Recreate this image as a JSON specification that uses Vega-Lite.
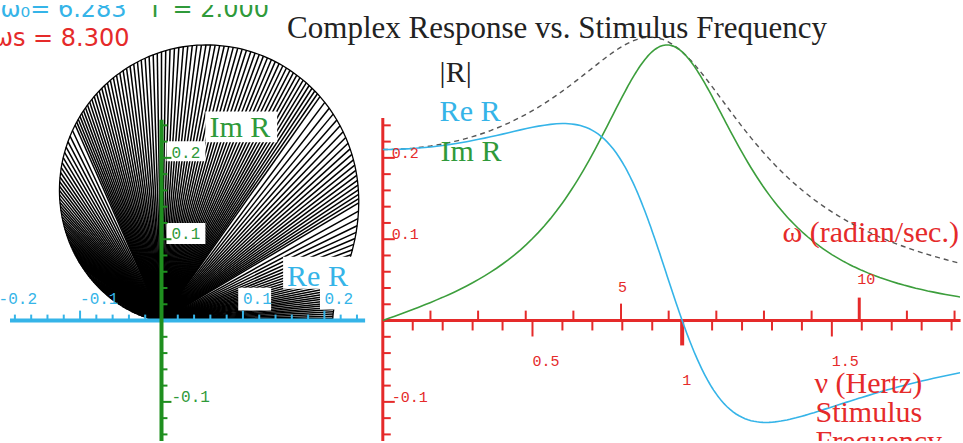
{
  "$schema": "https://vega.github.io/schema/vega-lite/v6.json",
  "width": 963,
  "height": 443,
  "autosize": {"type": "fit", "contains": "padding"},
  "padding": 0,
  "background": "white",
  "config": {"view": {"stroke": null}, "axis": {"disable": true}},
  "datasets": {
    "resp": [
      {"nu":0,"re":0.2103,"im":0,"mag":0.2103},
      {"nu":0.02,"re":0.2103,"im":0.0027,"mag":0.2103},
      {"nu":0.04,"re":0.2105,"im":0.0054,"mag":0.2105},
      {"nu":0.06,"re":0.2107,"im":0.0081,"mag":0.2109},
      {"nu":0.08,"re":0.2111,"im":0.0108,"mag":0.2113},
      {"nu":0.1,"re":0.2115,"im":0.0136,"mag":0.2119},
      {"nu":0.12,"re":0.2121,"im":0.0164,"mag":0.2127},
      {"nu":0.14,"re":0.2127,"im":0.0193,"mag":0.2136},
      {"nu":0.16,"re":0.2134,"im":0.0223,"mag":0.2146},
      {"nu":0.18,"re":0.2143,"im":0.0254,"mag":0.2158},
      {"nu":0.2,"re":0.2152,"im":0.0285,"mag":0.2171},
      {"nu":0.22,"re":0.2163,"im":0.0318,"mag":0.2186},
      {"nu":0.24,"re":0.2174,"im":0.0352,"mag":0.2202},
      {"nu":0.26,"re":0.2186,"im":0.0388,"mag":0.2220},
      {"nu":0.28,"re":0.2199,"im":0.0425,"mag":0.2240},
      {"nu":0.3,"re":0.2213,"im":0.0464,"mag":0.2261},
      {"nu":0.32,"re":0.2228,"im":0.0506,"mag":0.2284},
      {"nu":0.34,"re":0.2243,"im":0.0549,"mag":0.2309},
      {"nu":0.36,"re":0.2259,"im":0.0595,"mag":0.2336},
      {"nu":0.38,"re":0.2275,"im":0.0643,"mag":0.2365},
      {"nu":0.4,"re":0.2292,"im":0.0695,"mag":0.2395},
      {"nu":0.42,"re":0.2309,"im":0.0750,"mag":0.2428},
      {"nu":0.44,"re":0.2327,"im":0.0808,"mag":0.2463},
      {"nu":0.46,"re":0.2344,"im":0.0870,"mag":0.2500},
      {"nu":0.48,"re":0.2360,"im":0.0937,"mag":0.2539},
      {"nu":0.5,"re":0.2376,"im":0.1008,"mag":0.2581},
      {"nu":0.52,"re":0.2390,"im":0.1084,"mag":0.2624},
      {"nu":0.54,"re":0.2402,"im":0.1166,"mag":0.2670},
      {"nu":0.56,"re":0.2412,"im":0.1253,"mag":0.2718},
      {"nu":0.58,"re":0.2419,"im":0.1346,"mag":0.2769},
      {"nu":0.6,"re":0.2422,"im":0.1446,"mag":0.2821},
      {"nu":0.61,"re":0.2422,"im":0.1498,"mag":0.2848},
      {"nu":0.62,"re":0.2420,"im":0.1552,"mag":0.2875},
      {"nu":0.63,"re":0.2417,"im":0.1608,"mag":0.2903},
      {"nu":0.64,"re":0.2412,"im":0.1665,"mag":0.2931},
      {"nu":0.65,"re":0.2406,"im":0.1724,"mag":0.2959},
      {"nu":0.66,"re":0.2397,"im":0.1784,"mag":0.2988},
      {"nu":0.67,"re":0.2386,"im":0.1847,"mag":0.3017},
      {"nu":0.68,"re":0.2373,"im":0.1911,"mag":0.3046},
      {"nu":0.69,"re":0.2357,"im":0.1976,"mag":0.3075},
      {"nu":0.7,"re":0.2338,"im":0.2043,"mag":0.3104},
      {"nu":0.71,"re":0.2316,"im":0.2111,"mag":0.3133},
      {"nu":0.72,"re":0.2291,"im":0.2180,"mag":0.3162},
      {"nu":0.73,"re":0.2262,"im":0.2251,"mag":0.3191},
      {"nu":0.74,"re":0.2230,"im":0.2322,"mag":0.3219},
      {"nu":0.75,"re":0.2193,"im":0.2394,"mag":0.3247},
      {"nu":0.76,"re":0.2153,"im":0.2466,"mag":0.3274},
      {"nu":0.77,"re":0.2108,"im":0.2538,"mag":0.3300},
      {"nu":0.78,"re":0.2059,"im":0.2611,"mag":0.3325},
      {"nu":0.79,"re":0.2005,"im":0.2682,"mag":0.3349},
      {"nu":0.8,"re":0.1946,"im":0.2753,"mag":0.3371},
      {"nu":0.805,"re":0.1915,"im":0.2788,"mag":0.3382},
      {"nu":0.81,"re":0.1882,"im":0.2822,"mag":0.3392},
      {"nu":0.815,"re":0.1848,"im":0.2856,"mag":0.3402},
      {"nu":0.82,"re":0.1813,"im":0.2890,"mag":0.3411},
      {"nu":0.825,"re":0.1777,"im":0.2923,"mag":0.3420},
      {"nu":0.83,"re":0.1740,"im":0.2955,"mag":0.3429},
      {"nu":0.835,"re":0.1701,"im":0.2986,"mag":0.3437},
      {"nu":0.84,"re":0.1661,"im":0.3017,"mag":0.3444},
      {"nu":0.845,"re":0.1620,"im":0.3047,"mag":0.3451},
      {"nu":0.85,"re":0.1578,"im":0.3076,"mag":0.3457},
      {"nu":0.855,"re":0.1534,"im":0.3105,"mag":0.3463},
      {"nu":0.86,"re":0.1490,"im":0.3132,"mag":0.3468},
      {"nu":0.865,"re":0.1444,"im":0.3158,"mag":0.3472},
      {"nu":0.87,"re":0.1397,"im":0.3183,"mag":0.3476},
      {"nu":0.875,"re":0.1349,"im":0.3207,"mag":0.3479},
      {"nu":0.88,"re":0.1300,"im":0.3229,"mag":0.3481},
      {"nu":0.885,"re":0.1251,"im":0.3251,"mag":0.3483},
      {"nu":0.89,"re":0.1200,"im":0.3271,"mag":0.3484},
      {"nu":0.895,"re":0.1149,"im":0.3289,"mag":0.3484},
      {"nu":0.9,"re":0.1096,"im":0.3306,"mag":0.3483},
      {"nu":0.905,"re":0.1043,"im":0.3322,"mag":0.3482},
      {"nu":0.91,"re":0.0990,"im":0.3336,"mag":0.3479},
      {"nu":0.915,"re":0.0936,"im":0.3348,"mag":0.3476},
      {"nu":0.92,"re":0.0881,"im":0.3359,"mag":0.3472},
      {"nu":0.925,"re":0.0826,"im":0.3368,"mag":0.3468},
      {"nu":0.93,"re":0.0770,"im":0.3375,"mag":0.3462},
      {"nu":0.935,"re":0.0714,"im":0.3381,"mag":0.3456},
      {"nu":0.94,"re":0.0659,"im":0.3385,"mag":0.3449},
      {"nu":0.945,"re":0.0602,"im":0.3388,"mag":0.3441},
      {"nu":0.95,"re":0.0546,"im":0.3388,"mag":0.3432},
      {"nu":0.955,"re":0.0490,"im":0.3387,"mag":0.3423},
      {"nu":0.96,"re":0.0434,"im":0.3385,"mag":0.3412},
      {"nu":0.965,"re":0.0378,"im":0.3380,"mag":0.3401},
      {"nu":0.97,"re":0.0323,"im":0.3374,"mag":0.3389},
      {"nu":0.975,"re":0.0268,"im":0.3366,"mag":0.3377},
      {"nu":0.98,"re":0.0213,"im":0.3357,"mag":0.3363},
      {"nu":0.985,"re":0.0159,"im":0.3345,"mag":0.3349},
      {"nu":0.99,"re":0.0105,"im":0.3333,"mag":0.3334},
      {"nu":0.995,"re":0.0052,"im":0.3318,"mag":0.3319},
      {"nu":1,"re":0,"im":0.3303,"mag":0.3303},
      {"nu":1.005,"re":-0.0052,"im":0.3285,"mag":0.3286},
      {"nu":1.01,"re":-0.0102,"im":0.3267,"mag":0.3268},
      {"nu":1.015,"re":-0.0152,"im":0.3247,"mag":0.3250},
      {"nu":1.02,"re":-0.0201,"im":0.3225,"mag":0.3232},
      {"nu":1.025,"re":-0.0249,"im":0.3203,"mag":0.3212},
      {"nu":1.03,"re":-0.0295,"im":0.3179,"mag":0.3193},
      {"nu":1.035,"re":-0.0341,"im":0.3154,"mag":0.3172},
      {"nu":1.04,"re":-0.0386,"im":0.3128,"mag":0.3152},
      {"nu":1.045,"re":-0.0429,"im":0.3101,"mag":0.3131},
      {"nu":1.05,"re":-0.0471,"im":0.3073,"mag":0.3109},
      {"nu":1.055,"re":-0.0512,"im":0.3044,"mag":0.3087},
      {"nu":1.06,"re":-0.0552,"im":0.3015,"mag":0.3065},
      {"nu":1.065,"re":-0.0591,"im":0.2984,"mag":0.3042},
      {"nu":1.07,"re":-0.0628,"im":0.2953,"mag":0.3019},
      {"nu":1.075,"re":-0.0664,"im":0.2921,"mag":0.2996},
      {"nu":1.08,"re":-0.0699,"im":0.2889,"mag":0.2972},
      {"nu":1.085,"re":-0.0733,"im":0.2856,"mag":0.2948},
      {"nu":1.09,"re":-0.0765,"im":0.2823,"mag":0.2924},
      {"nu":1.095,"re":-0.0796,"im":0.2789,"mag":0.2900},
      {"nu":1.1,"re":-0.0826,"im":0.2755,"mag":0.2876},
      {"nu":1.105,"re":-0.0855,"im":0.2720,"mag":0.2851},
      {"nu":1.11,"re":-0.0882,"im":0.2686,"mag":0.2827},
      {"nu":1.115,"re":-0.0908,"im":0.2651,"mag":0.2802},
      {"nu":1.12,"re":-0.0933,"im":0.2616,"mag":0.2777},
      {"nu":1.125,"re":-0.0957,"im":0.2581,"mag":0.2752},
      {"nu":1.13,"re":-0.0980,"im":0.2546,"mag":0.2728},
      {"nu":1.135,"re":-0.1001,"im":0.2510,"mag":0.2703},
      {"nu":1.14,"re":-0.1022,"im":0.2475,"mag":0.2678},
      {"nu":1.145,"re":-0.1041,"im":0.2440,"mag":0.2653},
      {"nu":1.15,"re":-0.1060,"im":0.2405,"mag":0.2628},
      {"nu":1.16,"re":-0.1093,"im":0.2336,"mag":0.2579},
      {"nu":1.17,"re":-0.1123,"im":0.2267,"mag":0.2530},
      {"nu":1.18,"re":-0.1149,"im":0.2199,"mag":0.2481},
      {"nu":1.19,"re":-0.1171,"im":0.2132,"mag":0.2433},
      {"nu":1.2,"re":-0.1190,"im":0.2067,"mag":0.2385},
      {"nu":1.21,"re":-0.1207,"im":0.2003,"mag":0.2338},
      {"nu":1.22,"re":-0.1220,"im":0.1940,"mag":0.2292},
      {"nu":1.23,"re":-0.1231,"im":0.1879,"mag":0.2246},
      {"nu":1.24,"re":-0.1239,"im":0.1820,"mag":0.2201},
      {"nu":1.25,"re":-0.1245,"im":0.1762,"mag":0.2158},
      {"nu":1.26,"re":-0.1250,"im":0.1706,"mag":0.2115},
      {"nu":1.27,"re":-0.1252,"im":0.1651,"mag":0.2072},
      {"nu":1.28,"re":-0.1253,"im":0.1599,"mag":0.2031},
      {"nu":1.29,"re":-0.1252,"im":0.1548,"mag":0.1991},
      {"nu":1.3,"re":-0.1250,"im":0.1499,"mag":0.1951},
      {"nu":1.31,"re":-0.1246,"im":0.1451,"mag":0.1913},
      {"nu":1.32,"re":-0.1241,"im":0.1405,"mag":0.1875},
      {"nu":1.33,"re":-0.1236,"im":0.1361,"mag":0.1838},
      {"nu":1.34,"re":-0.1229,"im":0.1318,"mag":0.1802},
      {"nu":1.35,"re":-0.1222,"im":0.1277,"mag":0.1767},
      {"nu":1.36,"re":-0.1214,"im":0.1237,"mag":0.1733},
      {"nu":1.37,"re":-0.1205,"im":0.1199,"mag":0.1700},
      {"nu":1.38,"re":-0.1196,"im":0.1162,"mag":0.1668},
      {"nu":1.39,"re":-0.1186,"im":0.1126,"mag":0.1636},
      {"nu":1.4,"re":-0.1176,"im":0.1092,"mag":0.1605},
      {"nu":1.41,"re":-0.1166,"im":0.1059,"mag":0.1575},
      {"nu":1.42,"re":-0.1155,"im":0.1027,"mag":0.1546},
      {"nu":1.43,"re":-0.1144,"im":0.0997,"mag":0.1517},
      {"nu":1.44,"re":-0.1133,"im":0.0967,"mag":0.1489},
      {"nu":1.45,"re":-0.1121,"im":0.0939,"mag":0.1462},
      {"nu":1.46,"re":-0.1110,"im":0.0911,"mag":0.1436},
      {"nu":1.47,"re":-0.1098,"im":0.0885,"mag":0.1410},
      {"nu":1.48,"re":-0.1086,"im":0.0860,"mag":0.1385},
      {"nu":1.49,"re":-0.1074,"im":0.0835,"mag":0.1360},
      {"nu":1.5,"re":-0.1062,"im":0.0811,"mag":0.1337},
      {"nu":1.51,"re":-0.1050,"im":0.0789,"mag":0.1313},
      {"nu":1.52,"re":-0.1038,"im":0.0767,"mag":0.1291},
      {"nu":1.53,"re":-0.1026,"im":0.0746,"mag":0.1269},
      {"nu":1.54,"re":-0.1015,"im":0.0725,"mag":0.1247},
      {"nu":1.55,"re":-0.1003,"im":0.0706,"mag":0.1226},
      {"nu":1.56,"re":-0.0991,"im":0.0687,"mag":0.1206},
      {"nu":1.57,"re":-0.0979,"im":0.0668,"mag":0.1186},
      {"nu":1.58,"re":-0.0968,"im":0.0651,"mag":0.1166},
      {"nu":1.59,"re":-0.0956,"im":0.0634,"mag":0.1147},
      {"nu":1.6,"re":-0.0945,"im":0.0617,"mag":0.1129},
      {"nu":1.62,"re":-0.0923,"im":0.0586,"mag":0.1093},
      {"nu":1.64,"re":-0.0901,"im":0.0557,"mag":0.1059},
      {"nu":1.66,"re":-0.0879,"im":0.0529,"mag":0.1026},
      {"nu":1.68,"re":-0.0858,"im":0.0504,"mag":0.0995},
      {"nu":1.7,"re":-0.0838,"im":0.0480,"mag":0.0965},
      {"nu":1.72,"re":-0.0818,"im":0.0457,"mag":0.0937},
      {"nu":1.74,"re":-0.0799,"im":0.0436,"mag":0.0910},
      {"nu":1.76,"re":-0.0780,"im":0.0417,"mag":0.0884},
      {"nu":1.78,"re":-0.0762,"im":0.0398,"mag":0.0859},
      {"nu":1.8,"re":-0.0744,"im":0.0381,"mag":0.0836},
      {"nu":1.82,"re":-0.0727,"im":0.0364,"mag":0.0813},
      {"nu":1.84,"re":-0.0710,"im":0.0349,"mag":0.0791},
      {"nu":1.86,"re":-0.0694,"im":0.0334,"mag":0.0770},
      {"nu":1.88,"re":-0.0678,"im":0.0320,"mag":0.0750},
      {"nu":1.9,"re":-0.0663,"im":0.0307,"mag":0.0731},
      {"nu":1.92,"re":-0.0648,"im":0.0295,"mag":0.0712},
      {"nu":1.94,"re":-0.0634,"im":0.0283,"mag":0.0695},
      {"nu":1.96,"re":-0.0620,"im":0.0272,"mag":0.0678},
      {"nu":1.98,"re":-0.0607,"im":0.0262,"mag":0.0661},
      {"nu":2,"re":-0.0594,"im":0.0252,"mag":0.0645},
      {"nu":2.1,"re":-0.0534,"im":0.0210,"mag":0.0574},
      {"nu":2.2,"re":-0.0483,"im":0.0176,"mag":0.0514},
      {"nu":2.3,"re":-0.0439,"im":0.0150,"mag":0.0464},
      {"nu":2.4,"re":-0.0400,"im":0.0129,"mag":0.0420},
      {"nu":2.5,"re":-0.0367,"im":0.0111,"mag":0.0383},
      {"nu":2.6,"re":-0.0337,"im":0.0097,"mag":0.0351},
      {"nu":2.8,"re":-0.0288,"im":0.0075,"mag":0.0297},
      {"nu":3,"re":-0.0249,"im":0.0059,"mag":0.0256},
      {"nu":3.5,"re":-0.0180,"im":0.0036,"mag":0.0183},
      {"nu":4,"re":-0.0136,"im":0.0023,"mag":0.0138}
    ]
  },
  "data": {"values": [{}]},
  "resolve": {"scale": {"x": "independent"}},
  "layer": [
    {
      "data": {"name": "resp"},
      "mark": {"type": "rule", "color": "#000000", "strokeWidth": 1.5, "clip": true},
      "encoding": {
        "x": {"field": "re", "type": "quantitative", "scale": {"domain": [-0.19829, 0.98042], "nice": false, "zero": false}},
        "y": {"field": "im", "type": "quantitative", "scale": {"domain": [-0.1481, 0.3941], "nice": false, "zero": false}},
        "x2": {"datum": 0},
        "y2": {"datum": 0}
      }
    },
    {
      "data": {"name": "resp"},
      "mark": {"type": "line", "color": "#000000", "strokeWidth": 1.3, "clip": true},
      "encoding": {
        "x": {"field": "re", "type": "quantitative", "scale": {"domain": [-0.19829, 0.98042], "nice": false, "zero": false}},
        "y": {"field": "im", "type": "quantitative", "scale": {"domain": [-0.1481, 0.3941], "nice": false, "zero": false}},
        "order": {"field": "nu", "type": "quantitative"}
      }
    },
    {
      "mark": {"type": "rect", "color": "white"},
      "encoding": {
        "x": {"datum": 0.0539, "type": "quantitative", "scale": {"domain": [-0.19829, 0.98042], "nice": false, "zero": false}},
        "x2": {"datum": 0.1420},
        "y": {"datum": 0.2570, "type": "quantitative", "scale": {"domain": [-0.1481, 0.3941], "nice": false, "zero": false}},
        "y2": {"datum": 0.2191}
      }
    },
    {
      "mark": {"type": "rect", "color": "white"},
      "encoding": {
        "x": {"datum": 0.0061, "type": "quantitative", "scale": {"domain": [-0.19829, 0.98042], "nice": false, "zero": false}},
        "x2": {"datum": 0.0539},
        "y": {"datum": 0.2203, "type": "quantitative", "scale": {"domain": [-0.1481, 0.3941], "nice": false, "zero": false}},
        "y2": {"datum": 0.1958}
      }
    },
    {
      "mark": {"type": "rect", "color": "white"},
      "encoding": {
        "x": {"datum": 0.0061, "type": "quantitative", "scale": {"domain": [-0.19829, 0.98042], "nice": false, "zero": false}},
        "x2": {"datum": 0.0539},
        "y": {"datum": 0.1200, "type": "quantitative", "scale": {"domain": [-0.1481, 0.3941], "nice": false, "zero": false}},
        "y2": {"datum": 0.0942}
      }
    },
    {
      "mark": {"type": "rect", "color": "white"},
      "encoding": {
        "x": {"datum": 0.0942, "type": "quantitative", "scale": {"domain": [-0.19829, 0.98042], "nice": false, "zero": false}},
        "x2": {"datum": 0.1346},
        "y": {"datum": 0.0404, "type": "quantitative", "scale": {"domain": [-0.1481, 0.3941], "nice": false, "zero": false}},
        "y2": {"datum": 0.0122}
      }
    },
    {
      "mark": {"type": "rect", "color": "white"},
      "encoding": {
        "x": {"datum": 0.1946, "type": "quantitative", "scale": {"domain": [-0.19829, 0.98042], "nice": false, "zero": false}},
        "x2": {"datum": 0.2338},
        "y": {"datum": 0.0514, "type": "quantitative", "scale": {"domain": [-0.1481, 0.3941], "nice": false, "zero": false}},
        "y2": {"datum": 0.0135}
      }
    },
    {
      "mark": {"type": "rect", "color": "white"},
      "encoding": {
        "x": {"datum": 0.1493, "type": "quantitative", "scale": {"domain": [-0.19829, 0.98042], "nice": false, "zero": false}},
        "x2": {"datum": 0.2375},
        "y": {"datum": 0.0783, "type": "quantitative", "scale": {"domain": [-0.1481, 0.3941], "nice": false, "zero": false}},
        "y2": {"datum": 0.0392}
      }
    },
    {
      "mark": {"type": "rule", "color": "#35b4e8", "strokeWidth": 4},
      "encoding": {
        "x": {"datum": -0.186, "type": "quantitative", "scale": {"domain": [-0.19829, 0.98042], "nice": false, "zero": false}},
        "x2": {"datum": 0.25},
        "y": {"datum": 0, "type": "quantitative", "scale": {"domain": [-0.1481, 0.3941], "nice": false, "zero": false}}
      }
    },
    {
      "data": {"values": [{"v":-0.18},{"v":-0.16},{"v":-0.14},{"v":-0.12},{"v":-0.08},{"v":-0.06},{"v":-0.04},{"v":-0.02},{"v":0.02},{"v":0.04},{"v":0.06},{"v":0.08},{"v":0.12},{"v":0.14},{"v":0.16},{"v":0.18},{"v":0.22},{"v":0.24}]},
      "mark": {"type": "rule", "color": "#35b4e8", "strokeWidth": 2},
      "encoding": {
        "x": {"field": "v", "type": "quantitative", "scale": {"domain": [-0.19829, 0.98042], "nice": false, "zero": false}},
        "y": {"datum": 0, "type": "quantitative", "scale": {"domain": [-0.1481, 0.3941], "nice": false, "zero": false}},
        "y2": {"datum": 0.0073}
      }
    },
    {
      "data": {"values": [{"v":-0.1},{"v":0.1},{"v":0.2}]},
      "mark": {"type": "rule", "color": "#35b4e8", "strokeWidth": 2},
      "encoding": {
        "x": {"field": "v", "type": "quantitative", "scale": {"domain": [-0.19829, 0.98042], "nice": false, "zero": false}},
        "y": {"datum": 0, "type": "quantitative", "scale": {"domain": [-0.1481, 0.3941], "nice": false, "zero": false}},
        "y2": {"datum": 0.0122}
      }
    },
    {
      "mark": {"type": "rule", "color": "#1f8f1f", "strokeWidth": 4},
      "encoding": {
        "x": {"datum": 0, "type": "quantitative", "scale": {"domain": [-0.19829, 0.98042], "nice": false, "zero": false}},
        "y": {"datum": -0.1481, "type": "quantitative", "scale": {"domain": [-0.1481, 0.3941], "nice": false, "zero": false}},
        "y2": {"datum": 0.247}
      }
    },
    {
      "data": {"values": [{"v":-0.14},{"v":-0.12},{"v":-0.08},{"v":-0.06},{"v":-0.04},{"v":-0.02},{"v":0.02},{"v":0.04},{"v":0.06},{"v":0.08},{"v":0.12},{"v":0.14},{"v":0.16},{"v":0.18},{"v":0.22},{"v":0.24}]},
      "mark": {"type": "rule", "color": "#1f8f1f", "strokeWidth": 2},
      "encoding": {
        "y": {"field": "v", "type": "quantitative", "scale": {"domain": [-0.1481, 0.3941], "nice": false, "zero": false}},
        "x": {"datum": 0, "type": "quantitative", "scale": {"domain": [-0.19829, 0.98042], "nice": false, "zero": false}},
        "x2": {"datum": 0.0073}
      }
    },
    {
      "data": {"values": [{"v":-0.1},{"v":0.1},{"v":0.2}]},
      "mark": {"type": "rule", "color": "#1f8f1f", "strokeWidth": 2},
      "encoding": {
        "y": {"field": "v", "type": "quantitative", "scale": {"domain": [-0.1481, 0.3941], "nice": false, "zero": false}},
        "x": {"datum": 0, "type": "quantitative", "scale": {"domain": [-0.19829, 0.98042], "nice": false, "zero": false}},
        "x2": {"datum": 0.0122}
      }
    },
    {
      "mark": {"type": "rule", "color": "#e52a2a", "strokeWidth": 3},
      "encoding": {
        "x": {"datum": 0, "type": "quantitative", "scale": {"domain": [-1.27872, 1.92807], "nice": false, "zero": false}},
        "y": {"datum": -0.1481, "type": "quantitative", "scale": {"domain": [-0.1481, 0.3941], "nice": false, "zero": false}},
        "y2": {"datum": 0.249}
      }
    },
    {
      "mark": {"type": "rule", "color": "#e52a2a", "strokeWidth": 3},
      "encoding": {
        "x": {"datum": 0, "type": "quantitative", "scale": {"domain": [-1.27872, 1.92807], "nice": false, "zero": false}},
        "x2": {"datum": 1.93},
        "y": {"datum": 0, "type": "quantitative", "scale": {"domain": [-0.1481, 0.3941], "nice": false, "zero": false}}
      }
    },
    {
      "data": {"values": [{"v":-0.14},{"v":-0.12},{"v":-0.08},{"v":-0.06},{"v":-0.04},{"v":-0.02},{"v":0.02},{"v":0.04},{"v":0.06},{"v":0.08},{"v":0.12},{"v":0.14},{"v":0.16},{"v":0.18},{"v":0.22},{"v":0.24}]},
      "mark": {"type": "rule", "color": "#e52a2a", "strokeWidth": 2},
      "encoding": {
        "y": {"field": "v", "type": "quantitative", "scale": {"domain": [-0.1481, 0.3941], "nice": false, "zero": false}},
        "x": {"datum": 0, "type": "quantitative", "scale": {"domain": [-1.27872, 1.92807], "nice": false, "zero": false}},
        "x2": {"datum": 0.0266}
      }
    },
    {
      "data": {"values": [{"v":-0.1},{"v":0.1},{"v":0.2}]},
      "mark": {"type": "rule", "color": "#e52a2a", "strokeWidth": 2},
      "encoding": {
        "y": {"field": "v", "type": "quantitative", "scale": {"domain": [-0.1481, 0.3941], "nice": false, "zero": false}},
        "x": {"datum": 0, "type": "quantitative", "scale": {"domain": [-1.27872, 1.92807], "nice": false, "zero": false}},
        "x2": {"datum": 0.04}
      }
    },
    {
      "data": {"values": [{"v":0.1},{"v":0.2},{"v":0.3},{"v":0.4},{"v":0.6},{"v":0.7},{"v":0.8},{"v":0.9},{"v":1.1},{"v":1.2},{"v":1.3},{"v":1.4},{"v":1.6},{"v":1.7},{"v":1.8},{"v":1.9}]},
      "mark": {"type": "rule", "color": "#e52a2a", "strokeWidth": 2},
      "encoding": {
        "x": {"field": "v", "type": "quantitative", "scale": {"domain": [-1.27872, 1.92807], "nice": false, "zero": false}},
        "y": {"datum": 0, "type": "quantitative", "scale": {"domain": [-0.1481, 0.3941], "nice": false, "zero": false}},
        "y2": {"datum": -0.0122}
      }
    },
    {
      "data": {"values": [{"v":0.5},{"v":1.5}]},
      "mark": {"type": "rule", "color": "#e52a2a", "strokeWidth": 2},
      "encoding": {
        "x": {"field": "v", "type": "quantitative", "scale": {"domain": [-1.27872, 1.92807], "nice": false, "zero": false}},
        "y": {"datum": 0, "type": "quantitative", "scale": {"domain": [-0.1481, 0.3941], "nice": false, "zero": false}},
        "y2": {"datum": -0.0196}
      }
    },
    {
      "data": {"values": [{"v":1}]},
      "mark": {"type": "rule", "color": "#e52a2a", "strokeWidth": 4},
      "encoding": {
        "x": {"field": "v", "type": "quantitative", "scale": {"domain": [-1.27872, 1.92807], "nice": false, "zero": false}},
        "y": {"datum": 0, "type": "quantitative", "scale": {"domain": [-0.1481, 0.3941], "nice": false, "zero": false}},
        "y2": {"datum": -0.0306}
      }
    },
    {
      "data": {"values": [{"w":1},{"w":2},{"w":3},{"w":4},{"w":6},{"w":7},{"w":8},{"w":9},{"w":11},{"w":12}]},
      "mark": {"type": "rule", "color": "#e52a2a", "strokeWidth": 2},
      "encoding": {
        "x": {"field": "w", "type": "quantitative", "scale": {"domain": [-8.0344, 12.1144], "nice": false, "zero": false}},
        "y": {"datum": 0, "type": "quantitative", "scale": {"domain": [-0.1481, 0.3941], "nice": false, "zero": false}},
        "y2": {"datum": 0.0122}
      }
    },
    {
      "data": {"values": [{"w":5}]},
      "mark": {"type": "rule", "color": "#e52a2a", "strokeWidth": 2},
      "encoding": {
        "x": {"field": "w", "type": "quantitative", "scale": {"domain": [-8.0344, 12.1144], "nice": false, "zero": false}},
        "y": {"datum": 0, "type": "quantitative", "scale": {"domain": [-0.1481, 0.3941], "nice": false, "zero": false}},
        "y2": {"datum": 0.0208}
      }
    },
    {
      "data": {"values": [{"w":10}]},
      "mark": {"type": "rule", "color": "#e52a2a", "strokeWidth": 3},
      "encoding": {
        "x": {"field": "w", "type": "quantitative", "scale": {"domain": [-8.0344, 12.1144], "nice": false, "zero": false}},
        "y": {"datum": 0, "type": "quantitative", "scale": {"domain": [-0.1481, 0.3941], "nice": false, "zero": false}},
        "y2": {"datum": 0.0282}
      }
    },
    {
      "data": {"name": "resp"},
      "mark": {"type": "line", "color": "#555555", "strokeWidth": 1.4, "strokeDash": [5, 4], "clip": true},
      "encoding": {
        "x": {"field": "nu", "type": "quantitative", "scale": {"domain": [-1.27872, 1.92807], "nice": false, "zero": false}},
        "y": {"field": "mag", "type": "quantitative", "scale": {"domain": [-0.1481, 0.3941], "nice": false, "zero": false}}
      }
    },
    {
      "data": {"name": "resp"},
      "mark": {"type": "line", "color": "#3c9e3c", "strokeWidth": 1.6, "clip": true},
      "encoding": {
        "x": {"field": "nu", "type": "quantitative", "scale": {"domain": [-1.27872, 1.92807], "nice": false, "zero": false}},
        "y": {"field": "im", "type": "quantitative", "scale": {"domain": [-0.1481, 0.3941], "nice": false, "zero": false}}
      }
    },
    {
      "data": {"name": "resp"},
      "mark": {"type": "line", "color": "#35b4e8", "strokeWidth": 1.6, "clip": true},
      "encoding": {
        "x": {"field": "nu", "type": "quantitative", "scale": {"domain": [-1.27872, 1.92807], "nice": false, "zero": false}},
        "y": {"field": "re", "type": "quantitative", "scale": {"domain": [-0.1481, 0.3941], "nice": false, "zero": false}}
      }
    },
    {
      "data": {"values": [{"v":-0.2,"t":"-0.2"},{"v":-0.1,"t":"-0.1"},{"v":0.1,"t":"0.1"},{"v":0.2,"t":"0.2"}]},
      "mark": {"type": "text", "align": "left", "baseline": "alphabetic", "font": "Liberation Mono", "fontSize": 16, "color": "#35b4e8", "clip": true},
      "encoding": {
        "x": {"field": "v", "type": "quantitative", "scale": {"domain": [-0.19829, 0.98042], "nice": false, "zero": false}},
        "y": {"datum": 0.0208, "type": "quantitative", "scale": {"domain": [-0.1481, 0.3941], "nice": false, "zero": false}},
        "text": {"field": "t"}
      }
    },
    {
      "data": {"values": [{"v":0.2,"t":"0.2"},{"v":0.1,"t":"0.1"},{"v":-0.1,"t":"-0.1"}]},
      "mark": {"type": "text", "align": "left", "baseline": "alphabetic", "font": "Liberation Mono", "fontSize": 16, "color": "#2f9a3a", "clip": true},
      "encoding": {
        "y": {"field": "v", "type": "quantitative", "scale": {"domain": [-0.1481, 0.3941], "nice": false, "zero": false}},
        "x": {"datum": 0.0122, "type": "quantitative", "scale": {"domain": [-0.19829, 0.98042], "nice": false, "zero": false}},
        "text": {"field": "t"}
      }
    },
    {
      "data": {"values": [{"v":0.2,"t":"0.2"},{"v":0.1,"t":"0.1"},{"v":-0.1,"t":"-0.1"}]},
      "mark": {"type": "text", "align": "left", "baseline": "alphabetic", "font": "Liberation Mono", "fontSize": 15, "color": "#e52a2a", "clip": true},
      "encoding": {
        "y": {"field": "v", "type": "quantitative", "scale": {"domain": [-0.1481, 0.3941], "nice": false, "zero": false}},
        "x": {"datum": 0.03, "type": "quantitative", "scale": {"domain": [-1.27872, 1.92807], "nice": false, "zero": false}},
        "text": {"field": "t"}
      }
    },
    {
      "data": {"values": [{"v":0.5,"t":"0.5"},{"v":1.5,"t":"1.5"}]},
      "mark": {"type": "text", "align": "left", "baseline": "alphabetic", "font": "Liberation Mono", "fontSize": 15, "color": "#e52a2a", "clip": true},
      "encoding": {
        "x": {"field": "v", "type": "quantitative", "scale": {"domain": [-1.27872, 1.92807], "nice": false, "zero": false}},
        "y": {"datum": -0.0563, "type": "quantitative", "scale": {"domain": [-0.1481, 0.3941], "nice": false, "zero": false}},
        "text": {"field": "t"}
      }
    },
    {
      "data": {"values": [{"v":1,"t":"1"}]},
      "mark": {"type": "text", "align": "left", "baseline": "alphabetic", "font": "Liberation Mono", "fontSize": 15, "color": "#e52a2a", "clip": true},
      "encoding": {
        "x": {"field": "v", "type": "quantitative", "scale": {"domain": [-1.27872, 1.92807], "nice": false, "zero": false}},
        "y": {"datum": -0.0796, "type": "quantitative", "scale": {"domain": [-0.1481, 0.3941], "nice": false, "zero": false}},
        "text": {"field": "t"}
      }
    },
    {
      "data": {"values": [{"w":5,"t":"5"}]},
      "mark": {"type": "text", "align": "left", "baseline": "alphabetic", "font": "Liberation Mono", "fontSize": 15, "color": "#e52a2a", "dx": -3, "clip": true},
      "encoding": {
        "x": {"field": "w", "type": "quantitative", "scale": {"domain": [-8.0344, 12.1144], "nice": false, "zero": false}},
        "y": {"datum": 0.0355, "type": "quantitative", "scale": {"domain": [-0.1481, 0.3941], "nice": false, "zero": false}},
        "text": {"field": "t"}
      }
    },
    {
      "data": {"values": [{"w":10,"t":"10"}]},
      "mark": {"type": "text", "align": "left", "baseline": "alphabetic", "font": "Liberation Mono", "fontSize": 15, "color": "#e52a2a", "dx": -2, "clip": true},
      "encoding": {
        "x": {"field": "w", "type": "quantitative", "scale": {"domain": [-8.0344, 12.1144], "nice": false, "zero": false}},
        "y": {"datum": 0.0453, "type": "quantitative", "scale": {"domain": [-0.1481, 0.3941], "nice": false, "zero": false}},
        "text": {"field": "t"}
      }
    },
    {
      "mark": {"type": "text", "align": "left", "baseline": "alphabetic", "font": "Liberation Serif", "fontSize": 31, "color": "#222222", "clip": true},
      "encoding": {
        "x": {"datum": -0.3197, "type": "quantitative", "scale": {"domain": [-1.27872, 1.92807], "nice": false, "zero": false}},
        "y": {"datum": 0.3476, "type": "quantitative", "scale": {"domain": [-0.1481, 0.3941], "nice": false, "zero": false}},
        "text": {"value": "Complex Response vs. Stimulus Frequency"}
      }
    },
    {
      "mark": {"type": "text", "align": "left", "baseline": "alphabetic", "font": "Liberation Serif", "fontSize": 30, "color": "#222222", "clip": true},
      "encoding": {
        "x": {"datum": 0.1898, "type": "quantitative", "scale": {"domain": [-1.27872, 1.92807], "nice": false, "zero": false}},
        "y": {"datum": 0.2938, "type": "quantitative", "scale": {"domain": [-0.1481, 0.3941], "nice": false, "zero": false}},
        "text": {"value": "|R|"}
      }
    },
    {
      "mark": {"type": "text", "align": "left", "baseline": "alphabetic", "font": "Liberation Serif", "fontSize": 30, "color": "#35b4e8", "clip": true},
      "encoding": {
        "x": {"datum": 0.1898, "type": "quantitative", "scale": {"domain": [-1.27872, 1.92807], "nice": false, "zero": false}},
        "y": {"datum": 0.2448, "type": "quantitative", "scale": {"domain": [-0.1481, 0.3941], "nice": false, "zero": false}},
        "text": {"value": "Re R"}
      }
    },
    {
      "mark": {"type": "text", "align": "left", "baseline": "alphabetic", "font": "Liberation Serif", "fontSize": 30, "color": "#2f9a3a", "clip": true},
      "encoding": {
        "x": {"datum": 0.1931, "type": "quantitative", "scale": {"domain": [-1.27872, 1.92807], "nice": false, "zero": false}},
        "y": {"datum": 0.1958, "type": "quantitative", "scale": {"domain": [-0.1481, 0.3941], "nice": false, "zero": false}},
        "text": {"value": "Im R"}
      }
    },
    {
      "mark": {"type": "text", "align": "left", "baseline": "alphabetic", "font": "Liberation Serif", "fontSize": 30, "color": "#e52a2a", "clip": true},
      "encoding": {
        "x": {"datum": 1.3353, "type": "quantitative", "scale": {"domain": [-1.27872, 1.92807], "nice": false, "zero": false}},
        "y": {"datum": 0.0967, "type": "quantitative", "scale": {"domain": [-0.1481, 0.3941], "nice": false, "zero": false}},
        "text": {"value": "ω (radian/sec.)"}
      }
    },
    {
      "mark": {"type": "text", "align": "left", "baseline": "alphabetic", "font": "Liberation Serif", "fontSize": 30, "color": "#e52a2a", "clip": true},
      "encoding": {
        "x": {"datum": 1.4419, "type": "quantitative", "scale": {"domain": [-1.27872, 1.92807], "nice": false, "zero": false}},
        "y": {"datum": -0.0894, "type": "quantitative", "scale": {"domain": [-0.1481, 0.3941], "nice": false, "zero": false}},
        "text": {"value": "ν (Hertz)"}
      }
    },
    {
      "mark": {"type": "text", "align": "left", "baseline": "alphabetic", "font": "Liberation Serif", "fontSize": 30, "color": "#e52a2a", "clip": true},
      "encoding": {
        "x": {"datum": 1.4452, "type": "quantitative", "scale": {"domain": [-1.27872, 1.92807], "nice": false, "zero": false}},
        "y": {"datum": -0.1248, "type": "quantitative", "scale": {"domain": [-0.1481, 0.3941], "nice": false, "zero": false}},
        "text": {"value": "Stimulus"}
      }
    },
    {
      "mark": {"type": "text", "align": "left", "baseline": "alphabetic", "font": "Liberation Serif", "fontSize": 30, "color": "#e52a2a", "clip": true},
      "encoding": {
        "x": {"datum": 1.4452, "type": "quantitative", "scale": {"domain": [-1.27872, 1.92807], "nice": false, "zero": false}},
        "y": {"datum": -0.1603, "type": "quantitative", "scale": {"domain": [-0.1481, 0.3941], "nice": false, "zero": false}},
        "text": {"value": "Frequency"}
      }
    },
    {
      "mark": {"type": "text", "align": "left", "baseline": "alphabetic", "font": "Liberation Serif", "fontSize": 30, "color": "#2f9a3a", "clip": true},
      "encoding": {
        "x": {"datum": 0.0588, "type": "quantitative", "scale": {"domain": [-0.19829, 0.98042], "nice": false, "zero": false}},
        "y": {"datum": 0.2252, "type": "quantitative", "scale": {"domain": [-0.1481, 0.3941], "nice": false, "zero": false}},
        "text": {"value": "Im R"}
      }
    },
    {
      "mark": {"type": "text", "align": "left", "baseline": "alphabetic", "font": "Liberation Serif", "fontSize": 30, "color": "#35b4e8", "clip": true},
      "encoding": {
        "x": {"datum": 0.1542, "type": "quantitative", "scale": {"domain": [-0.19829, 0.98042], "nice": false, "zero": false}},
        "y": {"datum": 0.0428, "type": "quantitative", "scale": {"domain": [-0.1481, 0.3941], "nice": false, "zero": false}},
        "text": {"value": "Re R"}
      }
    },
    {
      "mark": {"type": "text", "align": "right", "baseline": "alphabetic", "font": "DejaVu Sans", "fontSize": 24, "color": "#35b4e8", "clip": true},
      "encoding": {
        "x": {"datum": -0.0428, "type": "quantitative", "scale": {"domain": [-0.19829, 0.98042], "nice": false, "zero": false}},
        "y": {"datum": 0.3733, "type": "quantitative", "scale": {"domain": [-0.1481, 0.3941], "nice": false, "zero": false}},
        "text": {"value": "ω₀= 6.283"}
      }
    },
    {
      "mark": {"type": "text", "align": "left", "baseline": "alphabetic", "font": "DejaVu Sans", "fontSize": 24, "color": "#2f9a3a", "clip": true},
      "encoding": {
        "x": {"datum": -0.0122, "type": "quantitative", "scale": {"domain": [-0.19829, 0.98042], "nice": false, "zero": false}},
        "y": {"datum": 0.3733, "type": "quantitative", "scale": {"domain": [-0.1481, 0.3941], "nice": false, "zero": false}},
        "text": {"value": "Γ = 2.000"}
      }
    },
    {
      "mark": {"type": "rect", "color": "white"},
      "encoding": {
        "x": {"datum": -0.19829, "type": "quantitative", "scale": {"domain": [-0.19829, 0.98042], "nice": false, "zero": false}},
        "x2": {"datum": 0.17},
        "y": {"datum": 0.3941, "type": "quantitative", "scale": {"domain": [-0.1481, 0.3941], "nice": false, "zero": false}},
        "y2": {"datum": 0.3880}
      }
    },
    {
      "mark": {"type": "text", "align": "right", "baseline": "alphabetic", "font": "DejaVu Sans", "fontSize": 24, "color": "#e52a2a", "clip": true},
      "encoding": {
        "x": {"datum": -0.0392, "type": "quantitative", "scale": {"domain": [-0.19829, 0.98042], "nice": false, "zero": false}},
        "y": {"datum": 0.3378, "type": "quantitative", "scale": {"domain": [-0.1481, 0.3941], "nice": false, "zero": false}},
        "text": {"value": "ωs = 8.300"}
      }
    }
  ]
}
